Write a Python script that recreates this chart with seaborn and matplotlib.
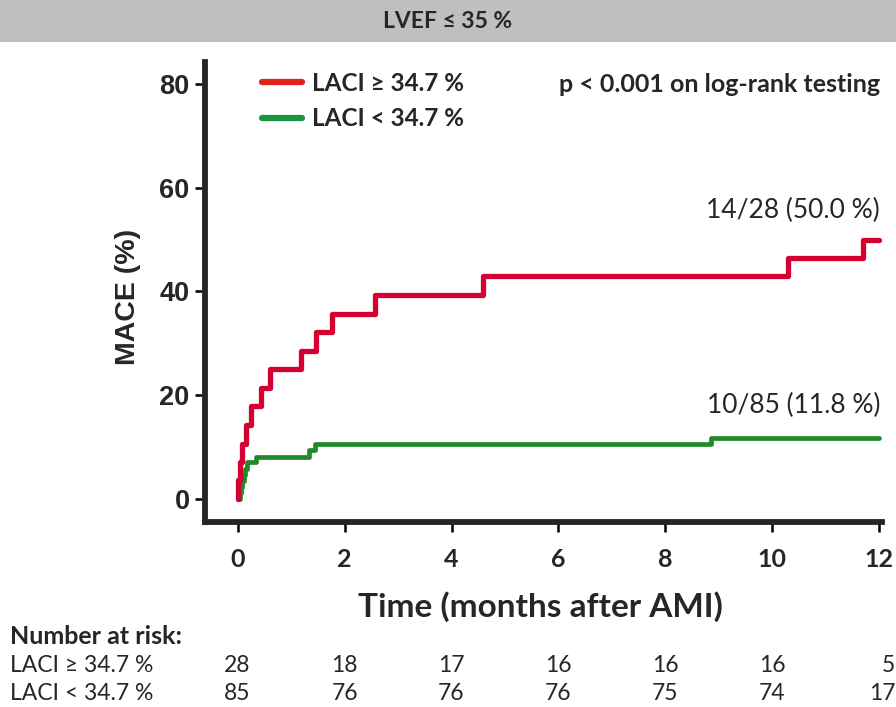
import numpy as np
import pandas as pd
import seaborn as sns
from matplotlib import pyplot as plt
from matplotlib.lines import Line2D
from matplotlib.patches import Rectangle
from matplotlib.transforms import blended_transform_factory

# cumulative MACE (%)
high_time = [0.0, 0.01, 0.04, 0.09, 0.16, 0.25, 0.43, 0.60, 1.18, 1.46, 1.76, 2.56, 4.59, 10.30, 11.70, 12.0]
high_mace = [0.0, 3.6, 7.1, 10.7, 14.3, 17.9, 21.4, 25.0, 28.6, 32.1, 35.7, 39.3, 42.9, 46.4, 50.0, 50.0]
low_time = [0.0, 0.05, 0.07, 0.09, 0.11, 0.14, 0.17, 0.34, 1.33, 1.45, 8.85, 12.0]
low_mace = [0.0, 1.2, 2.4, 3.5, 4.7, 5.9, 7.1, 8.2, 9.4, 10.6, 11.8, 11.8]

group_labels = ['LACI ≥ 34.7 %', 'LACI < 34.7 %']
end_labels = ['14/28 (50.0 %)', '10/85 (11.8 %)']
risk_times = [0, 2, 4, 6, 8, 10, 12]
risk_high = [28, 18, 17, 16, 16, 16, 5]
risk_low = [85, 76, 76, 76, 75, 74, 17]

red = '#D50032'
green = '#1E8A2A'

sns.set_style('ticks')
plt.rcParams['font.family'] = ['Lato', 'DejaVu Sans']

W, H = 896, 707
fig = plt.figure(figsize=(W / 100, H / 100), dpi=100)
ax = fig.add_axes([205 / W, 1 - 522 / H, 677 / W, 460 / H])

high = pd.DataFrame({'time': high_time, 'mace': high_mace})
low = pd.DataFrame({'time': low_time, 'mace': low_mace})
sns.lineplot(data=low, x='time', y='mace', ax=ax, color=green, lw=3.4,
             drawstyle='steps-post', estimator=None, sort=False)
sns.lineplot(data=high, x='time', y='mace', ax=ax, color=red, lw=3.8,
             drawstyle='steps-post', estimator=None, sort=False)

ax.set_xlim(-0.61, 12.05)
ax.set_ylim(-4.4, 84.2)
ax.set_xticks(risk_times)
ax.set_yticks([0, 20, 40, 60, 80])
sns.despine(ax=ax)
for s in ['left', 'bottom']:
    ax.spines[s].set_linewidth(4.2)
ax.tick_params(axis='both', direction='out', length=7, width=1.8, color='black')
ax.tick_params(axis='y', pad=4)
ax.tick_params(axis='x', pad=12)
for lab in ax.get_yticklabels():
    lab.set_fontfamily('Liberation Sans')
    lab.set_fontweight('bold')
    lab.set_fontsize(19.5)
for lab in ax.get_xticklabels():
    lab.set_fontweight('bold')
    lab.set_fontsize(18)

ax.set_xlabel('Time (months after AMI)', fontsize=24, fontweight='bold')
ax.xaxis.set_label_coords(0.4956, -0.183)
ax.xaxis.label.set_va('center')
ax.set_ylabel('MACE (%)', fontsize=20.5, fontweight='bold', family='Liberation Sans')
ax.yaxis.set_label_coords(-0.114, 0.49)
ax.yaxis.label.set_va('center')

# header band
fig.add_artist(Rectangle((0, 1 - 42 / H), 1, 42 / H, transform=fig.transFigure,
                         facecolor='#BFBFBF', edgecolor='none'))
fig.text(0.5, 1 - 22 / H, 'LVEF ≤ 35 %', ha='center', va='center',
         fontsize=16.5, fontweight='bold')

handles = [Line2D([], [], color='#E2231A', lw=4.5), Line2D([], [], color='#1A9641', lw=4.5)]
ax.legend(handles, group_labels, loc='upper left', bbox_to_anchor=(262 / W, 1 - 72 / H),
          bbox_transform=fig.transFigure, frameon=False, borderpad=0, borderaxespad=0,
          handlelength=1.65, handletextpad=0.42, labelspacing=0.5,
          prop={'weight': 'bold', 'size': 17.5})
fig.text(880 / W, 1 - 84 / H, 'p < 0.001 on log-rank testing', ha='right', va='center',
         fontsize=18, fontweight='bold')

fig.text(880 / W, 1 - 210 / H, end_labels[0], ha='right', va='center', fontsize=19)
fig.text(880 / W, 1 - 405 / H, end_labels[1], ha='right', va='center', fontsize=19)

# number at risk table
tr = blended_transform_factory(ax.transData, fig.transFigure)
fig.text(10 / W, 1 - 636 / H, 'Number at risk:', ha='left', va='center',
         fontsize=18, fontweight='bold')
for row_y, name, counts in [(666, group_labels[0], risk_high), (694, group_labels[1], risk_low)]:
    fig.text(10 / W, 1 - row_y / H, name, ha='left', va='center', fontsize=16.5)
    for t, n in zip(risk_times, counts):
        if t == risk_times[-1]:
            ax.text(12.3, 1 - row_y / H, str(n), transform=tr, ha='right', va='center',
                    fontsize=16.5, clip_on=False)
        else:
            ax.text(t, 1 - row_y / H, str(n), transform=tr, ha='center', va='center',
                    fontsize=16.5, clip_on=False)

fig.savefig('out.png', dpi=100)
